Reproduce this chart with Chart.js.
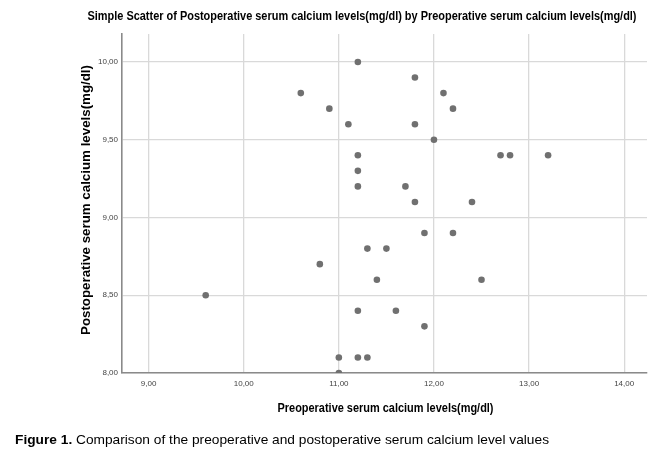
<!DOCTYPE html>
<html>
<head>
<meta charset="utf-8">
<script src="https://cdn.jsdelivr.net/npm/chart.js@4/dist/chart.umd.min.js"></script>
<style>
  html, body { margin: 0; padding: 0; background: #fff; }
  #wrap { width: 664px; height: 457px; }
</style>
</head>
<body>
<div id="wrap"><canvas id="scatter" width="664" height="457"></canvas></div>
<script>
// data
const preopValues = [11.2, 11.8, 10.6, 12.1, 10.9, 12.2, 11.1, 11.8, 12.0, 11.2, 12.7, 12.8, 13.2,
    11.2, 11.2, 11.7, 11.8, 12.4, 11.9, 12.2, 11.3, 11.5, 10.8, 11.4, 12.5, 9.6,
    11.2, 11.6, 11.9, 11.0, 11.2, 11.3, 11.0];
const postopValues = [10.0, 9.9, 9.8, 9.8, 9.7, 9.7, 9.6, 9.6, 9.5, 9.4, 9.4, 9.4, 9.4,
    9.3, 9.2, 9.2, 9.1, 9.1, 8.9, 8.9, 8.8, 8.8, 8.7, 8.6, 8.6, 8.5,
    8.4, 8.4, 8.3, 8.1, 8.1, 8.1, 8.0];
const xTicks = [9, 10, 11, 12, 13, 14];
const yTicks = [8, 8.5, 9, 9.5, 10];

const chartTitle = 'Simple Scatter of Postoperative serum calcium levels(mg/dl) by Preoperative serum calcium levels(mg/dl)';
const xTitle = 'Preoperative serum calcium levels(mg/dl)';
const yTitle = 'Postoperative serum calcium levels(mg/dl)';
const captionBold = 'Figure 1.';
const captionText = ' Comparison of the preoperative and postoperative serum calcium level values';

const arial = '"Liberation Sans", Arial, sans-serif';

const points = preopValues.map((x, i) => ({ x: x, y: postopValues[i] }));

// formatter: comma decimals like 9,00
const fmt = v => v.toFixed(2).replace('.', ',');

// draw a centred string squeezed/stretched to a given width
function fitText(ctx, str, cx, cy, width) {
    const w = ctx.measureText(str).width;
    ctx.save();
    ctx.translate(cx, cy);
    ctx.scale(width / w, 1);
    ctx.textAlign = 'center';
    ctx.fillText(str, 0, 0);
    ctx.restore();
}

// titles and caption
const textPlugin = {
    id: 'texts',
    afterDraw(chart) {
        const ctx = chart.ctx;
        const area = chart.chartArea;
        ctx.save();
        ctx.fillStyle = '#000';
        ctx.textBaseline = 'middle';

        ctx.font = 'bold 12.5px ' + arial;
        fitText(ctx, chartTitle, 362, 17, 549);
        fitText(ctx, xTitle, (area.left + area.right) / 2 + 1, 409, 216);

        ctx.save();
        ctx.translate(87, 200);
        ctx.rotate(-Math.PI / 2);
        ctx.font = 'bold 12px ' + arial;
        fitText(ctx, yTitle, 0, 0, 270);
        ctx.restore();

        // caption, bold lead-in then normal text, fitted to its width
        ctx.font = 'bold 13px ' + arial;
        const wb = ctx.measureText(captionBold).width;
        ctx.font = '13px ' + arial;
        const wt = ctx.measureText(captionText).width;
        const k = 534 / (wb + wt);
        ctx.save();
        ctx.translate(15, 440);
        ctx.scale(k, 1);
        ctx.textAlign = 'left';
        ctx.font = 'bold 13px ' + arial;
        ctx.fillText(captionBold, 0, 0);
        ctx.font = '13px ' + arial;
        ctx.fillText(captionText, wb, 0);
        ctx.restore();
        ctx.restore();
    }
};

new Chart(document.getElementById('scatter'), {
    type: 'scatter',
    data: {
        datasets: [{
            data: points,
            backgroundColor: '#707070',
            borderColor: '#707070',
            borderWidth: 0,
            pointRadius: 3.3,
            pointHoverRadius: 3.3
        }]
    },
    options: {
        responsive: false,
        animation: false,
        events: [],
        layout: { padding: { left: 0, right: 17, top: 34, bottom: 0 } },
        plugins: {
            legend: { display: false },
            title: { display: false },
            tooltip: { enabled: false }
        },
        scales: {
            x: {
                type: 'linear',
                min: 8.72,
                max: 14.24,
                afterBuildTicks: s => { s.ticks = xTicks.map(v => ({ value: v })); },
                afterFit: s => { s.height = 84; },
                grid: { color: '#d9d9d9', lineWidth: 1.3, drawTicks: false },
                border: { color: '#8a8a8a', width: 1.6 },
                ticks: {
                    padding: 6,
                    color: '#444',
                    font: { family: arial, size: 8 },
                    callback: v => fmt(v)
                }
            },
            y: {
                type: 'linear',
                min: 8,
                max: 10.18,
                afterBuildTicks: s => { s.ticks = yTicks.map(v => ({ value: v })); },
                afterFit: s => { s.width = 122; },
                grid: { color: '#d9d9d9', lineWidth: 1.3, drawTicks: false },
                border: { color: '#8a8a8a', width: 1.6 },
                ticks: {
                    padding: 4,
                    color: '#444',
                    font: { family: arial, size: 8 },
                    callback: v => fmt(v)
                }
            }
        }
    },
    plugins: [textPlugin]
});
</script>
</body>
</html>
